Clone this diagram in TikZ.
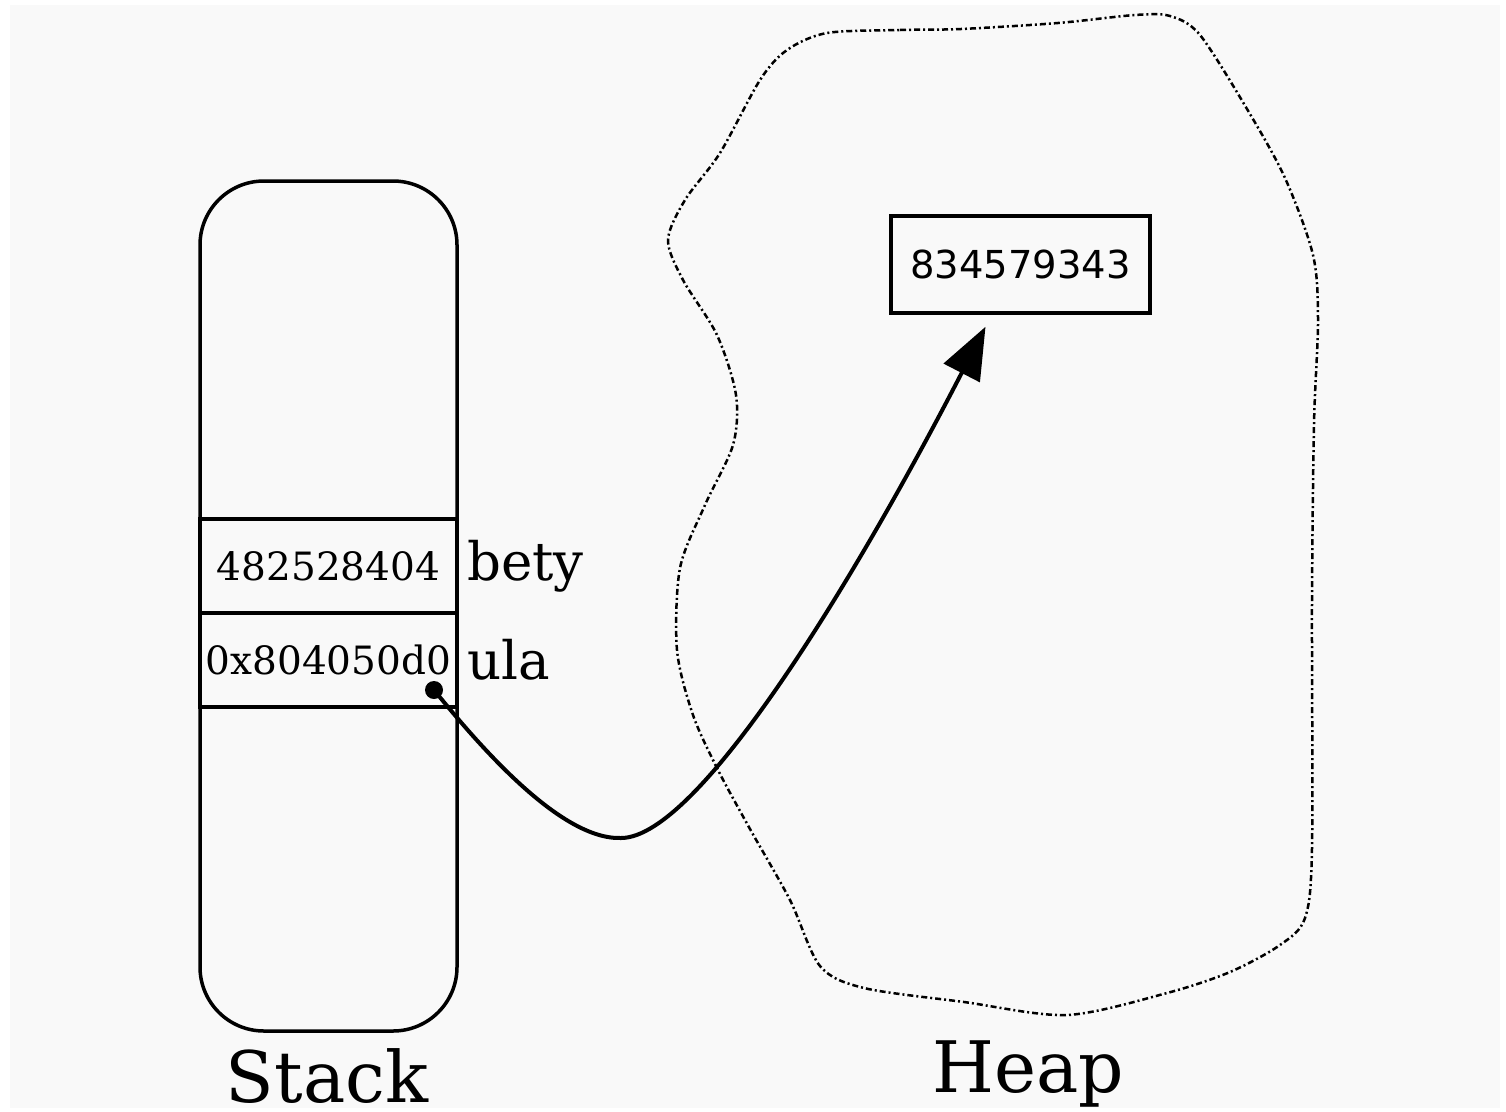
\documentclass[tikz,border=0pt]{standalone}
\usepackage{fontspec}
\setmainfont{DejaVu Serif}
\newfontfamily\sansvaleur{DejaVu Sans}
\usetikzlibrary{positioning,arrows.meta}
\definecolor{fondpapier}{RGB}{249,249,249}
\tikzset{
  case/.style={draw,line width=3.5pt,outer sep=0pt,inner sep=0pt,minimum width=257pt,minimum height=94pt,font=\fontsize{39}{44}\selectfont},
  nomvar/.style={inner sep=0pt,font=\fontsize{53}{60}\selectfont},
  titre/.style={inner sep=0pt,font=\fontsize{71}{80}\selectfont},
  pointeur/.style={line width=4pt,-{Triangle[length=52pt,width=40pt]}},
  contour/.style={line width=2.5pt,dash pattern=on 6pt off 3pt on 2pt off 3pt}
}
\begin{document}
\begin{tikzpicture}[x=1pt,y=-1pt]
\useasboundingbox (0,0) rectangle (1506,1111);
\fill[white] (0,0) rectangle (1506,1111);
\fill[fondpapier] (10,5) rectangle (1500,1108); %% le fond gris

%% la pile
\node[draw,line width=3.5pt,rounded corners=64pt,minimum width=257pt,minimum height=850pt] (pile) at (328.5,606) {};
\node[case] (bety) at (328.5,566) {482528404};
\node[case,below=0pt of bety] (ula) {0x804050d0};
\node[nomvar,right=10pt of bety] (lbety) {bety};
\node[nomvar,right=10pt of ula] (lula) {ula};
\node[titre,anchor=base] (tpile) at (327,1102) {Stack};

%% le tas
\draw[contour] plot[smooth cycle] coordinates {
  (827,33) (900,30) (961,29) (1058,23) (1135,15) (1170,16) (1200,35)
  (1247,109) (1285,178) (1313,255) (1318,320) (1314,424) (1312,600)
  (1312,848) (1305,918) (1280,945) (1230,972) (1167,993) (1067,1015)
  (964,1002) (864,988) (820,966) (790,900) (750,829) (718,770) (693,715)
  (677,650) (680,568) (705,505) (733,445) (736,395) (717,335) (683,280)
  (668,240) (685,200) (720,153) (760,80) (787,50)};
\node[draw,line width=3.5pt,minimum width=259pt,minimum height=97pt,font=\sansvaleur\fontsize{38.5}{44}\selectfont] (val) at (1020.5,264.5) {834579343};
\node[titre,anchor=base] (ttas) at (1028,1092) {Heap};

%% le pointeur
\node[circle,fill,inner sep=0pt,minimum size=18pt] (ptr) at (434,690) {};
\coordinate (creux) at (621,838);
\coordinate (pointe) at ([xshift=-35pt,yshift=-12pt]val.south);
\draw[pointeur] (ptr.center) .. controls (478,744) and (560,840) .. (creux)
  .. controls (700,838) and (860,570) .. (pointe);

\end{tikzpicture}
\end{document}
